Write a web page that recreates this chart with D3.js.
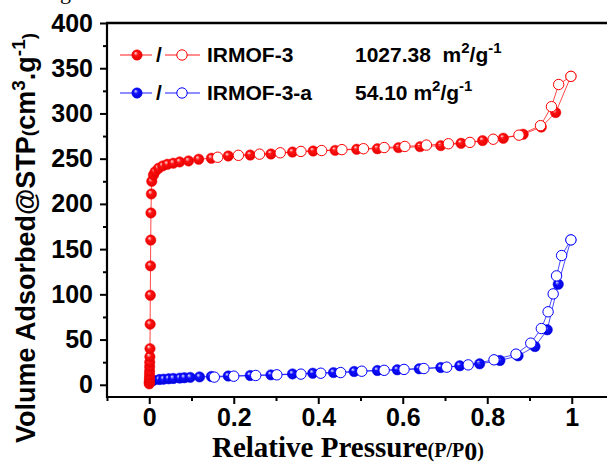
<!DOCTYPE html>
<html>
<head>
<meta charset="utf-8">
<script src="https://cdn.jsdelivr.net/npm/d3@7"></script>
<style>
  html, body { margin: 0; padding: 0; background: #fff; }
  svg { display: block; }
</style>
</head>
<body>
<svg id="chart" width="607" height="464"></svg>
<script>
// N2 isotherms: adsorption (filled) and desorption (open) branches
const redAdsP = [0.0001,0.0002,0.0003,0.0004,0.0006,0.0008,0.001,0.0012,0.0015,0.0018,0.0021,0.0025,0.003,0.0035,0.004,0.005,0.006,
  0.010,0.014,0.022,0.032,0.043,0.057,0.072,0.093,0.117,0.147,0.187,0.239,0.288,0.339,0.388,0.440,0.491,0.540,0.590,0.641,0.690,0.738,0.789,0.838,0.885,0.928,0.962,0.998];
const redAdsV = [1,2.5,4.5,7.5,11,15,20,25,31,40,67,99,131.5,160,190,211,225,
  232,235.7,239.4,242,243.8,245,246.4,247.5,249.4,250.5,253,254,255.2,257.3,258.5,259.2,260.4,261,262.2,263.3,264.4,267,270,272.6,277,285,301,341];
const redDesP = [0.998,0.969,0.952,0.926,0.875,0.814,0.759,0.708,0.656,0.605,0.556,0.507,0.456,0.408,0.359,0.310,0.261,0.211,0.162];
const redDesV = [341,332,307.5,286.5,276,271.5,268,266.5,265,263.5,262.3,261,260,259,258,256.5,255,253.7,251.6];

const blueAdsP = [0.001,0.005,0.010,0.024,0.034,0.046,0.057,0.072,0.083,0.097,0.119,0.147,0.187,0.239,0.288,0.339,0.387,0.436,0.485,0.540,
  0.587,0.639,0.690,0.735,0.782,0.830,0.873,0.913,0.942,0.968,0.998];
const blueAdsV = [3,4,5,5.8,6.2,6.6,7,7.4,7.8,8.2,8.7,9.2,9.7,10.3,11,12,12.8,13.5,14.7,15.8,
  16.6,17.7,19.1,21,23.2,26.9,32,42.3,60.8,111.2,160.2];
const blueDesP = [0.998,0.976,0.964,0.956,0.944,0.928,0.903,0.868,0.816,0.755,0.704,0.650,0.603,0.556,0.503,0.453,0.406,0.359,0.302,0.252,0.200,0.154];
const blueDesV = [160.2,142.9,120.4,100.5,80.7,62.2,46,33.9,27.6,22,19.5,18,17,16,15,13.5,12.8,11.8,11,10.3,9.5,8.5];

const seriesNames = ["IRMOF-3", "IRMOF-3-a"];
const surfaceAreas = ["1027.38", "54.10"];
const xTicks = [0, 0.2, 0.4, 0.6, 0.8, 1];
const xTickLabels = ["0", "0.2", "0.4", "0.6", "0.8", "1"];
const xMinorTicks = [-0.1, 0.1, 0.3, 0.5, 0.7, 0.9];
const yTicks = [0, 50, 100, 150, 200, 250, 300, 350, 400];
const yMinorTicks = [25, 75, 125, 175, 225, 275, 325, 375];

const colors = { red: "#ff0000", blue: "#0000ff" };

const svg = d3.select("#chart");
const plotLeft = 107, plotRight = 614, plotTop = 23, plotBottom = 397;

const x = d3.scaleLinear().domain([-0.1, 1.1]).range([plotLeft, plotRight]);
const y = d3.scaleLinear().domain([-13.5, 400]).range([plotBottom, plotTop]);

// Ball-style gradients for the filled markers
const defs = svg.append("defs");
function ball(id, light, mid, dark) {
  const g = defs.append("radialGradient").attr("id", id)
    .attr("cx", "0.5").attr("cy", "0.5").attr("r", "0.6")
    .attr("fx", "0.35").attr("fy", "0.3");
  g.append("stop").attr("offset", "0%").attr("stop-color", light);
  g.append("stop").attr("offset", "35%").attr("stop-color", mid);
  g.append("stop").attr("offset", "100%").attr("stop-color", dark);
}
ball("ballRed", "#ffe0e0", "#ff1010", "#d80000");
ball("ballBlue", "#e0e0ff", "#1010ff", "#0000c8");

// Axes
const labelFont = "'Liberation Sans', Arial, sans-serif";

const xAxis = d3.axisBottom(x).tickValues(xTicks).tickSize(7).tickPadding(4)
  .tickFormat((d, i) => xTickLabels[i]);
const gx = svg.append("g").attr("transform", `translate(0,${plotBottom})`).call(xAxis);
gx.select(".domain").remove();
gx.selectAll(".tick line").attr("stroke", "#000").attr("stroke-width", 2);
gx.selectAll(".tick text").attr("font-family", labelFont).attr("font-weight", "bold")
  .attr("font-size", 25).attr("fill", "#000").attr("dy", "0.71em");

const gxm = svg.append("g").attr("transform", `translate(0,${plotBottom})`)
  .call(d3.axisBottom(x).tickValues(xMinorTicks).tickSize(4).tickFormat(""));
gxm.select(".domain").remove();
gxm.selectAll(".tick line").attr("stroke", "#000").attr("stroke-width", 2);

const yAxis = d3.axisLeft(y).tickValues(yTicks).tickSize(7).tickPadding(7);
const gy = svg.append("g").attr("transform", `translate(${plotLeft},0)`).call(yAxis);
gy.select(".domain").remove();
gy.selectAll(".tick line").attr("stroke", "#000").attr("stroke-width", 2);
gy.selectAll(".tick text").attr("font-family", labelFont).attr("font-weight", "bold")
  .attr("font-size", 25).attr("fill", "#000");

const gym = svg.append("g").attr("transform", `translate(${plotLeft},0)`)
  .call(d3.axisLeft(y).tickValues(yMinorTicks).tickSize(4).tickFormat(""));
gym.select(".domain").remove();
gym.selectAll(".tick line").attr("stroke", "#000").attr("stroke-width", 2);

// Frame lines
svg.append("line").attr("x1", plotLeft).attr("x2", 607).attr("y1", plotBottom).attr("y2", plotBottom)
  .attr("stroke", "#000").attr("stroke-width", 2.2);
svg.append("line").attr("x1", plotLeft).attr("x2", plotLeft).attr("y1", plotTop - 1).attr("y2", plotBottom + 1)
  .attr("stroke", "#000").attr("stroke-width", 2.2);
svg.append("line").attr("x1", plotLeft - 1).attr("x2", 607).attr("y1", plotTop).attr("y2", plotTop)
  .attr("stroke", "#000").attr("stroke-width", 2.5);

// Data series
const line = d3.line().x(d => x(d[0])).y(d => y(d[1]));
const zip = (p, v) => p.map((d, i) => [d, v[i]]);

function drawBranch(data, color, filled, gradId) {
  const g = svg.append("g");
  g.append("path").datum(data).attr("d", line)
    .attr("fill", "none").attr("stroke", color).attr("stroke-width", 0.9).attr("stroke-opacity", 0.8);
  g.selectAll("circle").data(data).join("circle")
    .attr("cx", d => x(d[0])).attr("cy", d => y(d[1])).attr("r", 5.2)
    .attr("fill", filled ? `url(#${gradId})` : "#fff")
    .attr("stroke", color).attr("stroke-width", filled ? 0.5 : 1);
}

drawBranch(zip(blueAdsP, blueAdsV), colors.blue, true, "ballBlue");
drawBranch(zip(redAdsP, redAdsV), colors.red, true, "ballRed");
drawBranch(zip(blueDesP, blueDesV), colors.blue, false);
drawBranch(zip(redDesP, redDesV), colors.red, false);

// Legend
const legendRows = [
  { name: seriesNames[0], area: surfaceAreas[0], color: colors.red, grad: "ballRed", cy: 55, base: 62, gap: "\u00a0\u00a0" },
  { name: seriesNames[1], area: surfaceAreas[1], color: colors.blue, grad: "ballBlue", cy: 93, base: 100, gap: "\u00a0" }
];
legendRows.forEach(r => {
  const g = svg.append("g");
  g.append("line").attr("x1", 120).attr("x2", 152).attr("y1", r.cy).attr("y2", r.cy)
    .attr("stroke", r.color).attr("stroke-width", 0.9);
  g.append("circle").attr("cx", 137).attr("cy", r.cy).attr("r", 5.2)
    .attr("fill", `url(#${r.grad})`).attr("stroke", r.color).attr("stroke-width", 0.5);
  g.append("text").attr("x", 159).attr("y", r.base).attr("text-anchor", "middle")
    .attr("font-family", labelFont).attr("font-weight", "bold").attr("font-size", 21).text("/");
  g.append("line").attr("x1", 165).attr("x2", 200).attr("y1", r.cy).attr("y2", r.cy)
    .attr("stroke", r.color).attr("stroke-width", 0.9);
  g.append("circle").attr("cx", 182).attr("cy", r.cy).attr("r", 5.2)
    .attr("fill", "#fff").attr("stroke", r.color).attr("stroke-width", 1);
  g.append("text").attr("x", 207).attr("y", r.base)
    .attr("font-family", labelFont).attr("font-weight", "bold").attr("font-size", 21).text(r.name);
  const t = g.append("text").attr("x", 355).attr("y", r.base)
    .attr("font-family", labelFont).attr("font-weight", "bold").attr("font-size", 21);
  t.append("tspan").text(r.area + r.gap + "m");
  t.append("tspan").attr("dy", -9).attr("font-size", 15).text("2");
  t.append("tspan").attr("dy", 9).text("/g");
  t.append("tspan").attr("dy", -9).attr("font-size", 15).text("-1");
});

// Axis titles
const yt = svg.append("text")
  .attr("transform", "translate(35,443) rotate(-90)")
  .attr("font-family", labelFont).attr("font-weight", "bold").attr("font-size", 27).attr("fill", "#000");
yt.append("tspan").text("Volume Adsorbed@STP");
yt.append("tspan").attr("font-size", 19).text("(");
yt.append("tspan").text("cm");
yt.append("tspan").attr("font-size", 19).attr("dy", -10).text("3");
yt.append("tspan").attr("dy", 10).text(".g");
yt.append("tspan").attr("font-size", 19).attr("dy", -10).text("-1");
yt.append("tspan").attr("font-size", 19).attr("dy", 10).text(")");

const xt = svg.append("text").attr("x", 212).attr("y", 457)
  .attr("font-family", "'Liberation Serif', 'Times New Roman', serif").attr("font-weight", "bold")
  .attr("font-size", 29).attr("fill", "#000");
xt.append("tspan").text("Relative Pressure");
xt.append("tspan").attr("font-size", 20).text("(P/P");
xt.append("tspan").attr("font-size", 26).attr("dy", 3).text("0");
xt.append("tspan").attr("font-size", 20).attr("dy", -3).text(")");

// Descender of the caption line above the chart
svg.append("text").attr("x", 60).attr("y", -1)
  .attr("font-family", "'Liberation Serif', serif").attr("font-size", 22).text("g");
</script>
</body>
</html>
